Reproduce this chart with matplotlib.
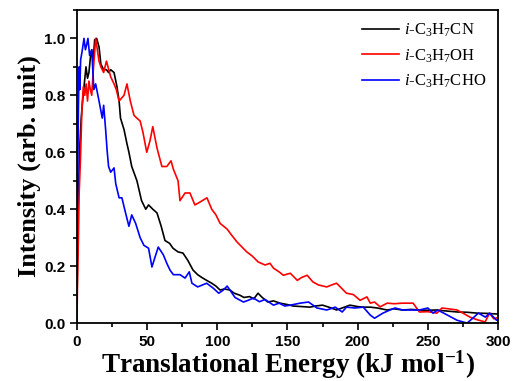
"""Translational energy distributions for i-C3H7X photofragments."""

import matplotlib

matplotlib.use("Agg")

import matplotlib.pyplot as plt
from matplotlib.ticker import MultipleLocator

# i-C3H7CN (black)
E_CN = [0, 0.5, 1, 2, 3, 4, 5, 6.4, 7.5, 8.5, 9.5, 10.5, 11.5, 12.6, 14, 15.7, 17,
        19, 21, 22.5, 24, 26.4, 28.5, 30, 31, 33.5, 35.6, 37, 39, 42.7, 46, 49, 51,
        54, 57, 60, 62.7, 66, 68.4, 72, 75.5, 79, 82.7, 86, 89, 92.4, 96, 99, 102,
        105, 109, 112, 116, 119, 123, 126, 129, 132, 136, 140, 144.7, 150, 154, 160,
        166, 170, 175, 180, 185, 190, 194.5, 200, 204, 209, 214, 221, 226, 232, 238,
        244, 250, 256, 262, 271, 278, 285, 292, 299, 300]
I_CN = [0.05, 0.3, 0.45, 0.62, 0.72, 0.78, 0.83, 0.9, 0.86, 0.88, 0.93, 0.96, 0.92,
        0.995, 1.0, 0.97, 0.91, 0.89, 0.89, 0.88, 0.89, 0.88, 0.83, 0.78, 0.72, 0.68,
        0.63, 0.60, 0.55, 0.50, 0.43, 0.40, 0.415, 0.40, 0.387, 0.34, 0.29, 0.28,
        0.263, 0.25, 0.246, 0.22, 0.186, 0.17, 0.16, 0.15, 0.14, 0.13, 0.116, 0.12,
        0.116, 0.105, 0.098, 0.09, 0.093, 0.085, 0.105, 0.09, 0.074, 0.078, 0.07,
        0.065, 0.06, 0.058, 0.056, 0.06, 0.063, 0.055, 0.046, 0.055, 0.063, 0.058,
        0.056, 0.056, 0.053, 0.046, 0.05, 0.046, 0.048, 0.046, 0.045, 0.046, 0.043,
        0.039, 0.038, 0.035, 0.034, 0.032, 0.032]

# i-C3H7OH (red)
E_OH = [0, 0.3, 1, 1.5, 2.5, 3.5, 4.5, 5.5, 6.5, 7.5, 8.5, 9.5, 10.5, 11.5, 13.3,
        15.7, 17, 19, 21, 24, 26.4, 28, 30, 33.5, 35.6, 38, 40.6, 42.6, 45, 47, 49.7,
        52, 54, 57, 60.5, 64, 67, 68.7, 72, 73.4, 77, 80.5, 84, 87.6, 92.6, 96, 99,
        102, 107, 110, 114, 117, 121, 125, 129, 134, 137.5, 140, 144, 147, 152, 157,
        160, 164, 168, 172, 178, 182, 185, 189, 192, 197, 201.7, 206.6, 209, 212, 216,
        221, 226, 232, 236, 239.5, 244, 250, 256.5, 260, 265, 270.8, 275, 280, 285,
        290.8, 294, 297, 300]
I_OH = [0.0, 0.13, 0.3, 0.45, 0.58, 0.75, 0.83, 0.80, 0.84, 0.78, 0.85, 0.82, 0.80,
        0.88, 1.0, 0.92, 0.90, 0.88, 0.92, 0.865, 0.84, 0.82, 0.78, 0.80, 0.84, 0.78,
        0.73, 0.72, 0.71, 0.67, 0.60, 0.64, 0.69, 0.615, 0.55, 0.55, 0.57, 0.54, 0.50,
        0.43, 0.457, 0.457, 0.415, 0.425, 0.44, 0.40, 0.38, 0.35, 0.33, 0.31, 0.285,
        0.27, 0.25, 0.235, 0.215, 0.204, 0.21, 0.193, 0.18, 0.168, 0.175, 0.15, 0.16,
        0.168, 0.145, 0.134, 0.127, 0.135, 0.14, 0.12, 0.105, 0.1, 0.08, 0.092, 0.07,
        0.074, 0.057, 0.07, 0.068, 0.07, 0.07, 0.07, 0.039, 0.04, 0.035, 0.053, 0.05,
        0.046, 0.035, 0.021, 0.012, 0.004, 0.035, 0.015, 0.02]

# i-C3H7CHO (blue)
E_CHO = [0, 0.5, 1, 1.5, 2, 2.6, 3.5, 5, 6, 7, 7.8, 9, 10.5, 12, 13.3, 15.7, 18, 19,
         20.4, 21.4, 22.5, 24, 26.4, 27.6, 30, 32, 34.7, 37, 39, 41.8, 45, 47.7, 51,
         53.4, 55.5, 57.9, 61.5, 64, 66.3, 68.7, 73.4, 77, 80, 81.9, 86, 92.4, 97, 101,
         104, 107, 112.6, 118.6, 122, 125.7, 130, 134, 140, 144, 148, 152, 159, 165,
         171, 178, 184, 189, 192, 198, 204, 209, 212, 218, 223, 226.6, 232, 239.5, 244,
         250, 253.7, 257, 264, 270.8, 278, 282, 286, 291, 294, 299, 300]
I_CHO = [0.35, 0.5, 0.75, 0.9, 0.82, 0.925, 0.95, 1.0, 0.96, 0.98, 1.0, 0.94, 0.96,
         0.82, 0.84, 0.78, 0.72, 0.765, 0.68, 0.61, 0.55, 0.53, 0.545, 0.49, 0.44, 0.44,
         0.385, 0.34, 0.38, 0.35, 0.30, 0.273, 0.263, 0.197, 0.23, 0.267, 0.24, 0.21,
         0.186, 0.17, 0.17, 0.158, 0.18, 0.14, 0.127, 0.14, 0.123, 0.105, 0.115, 0.13,
         0.09, 0.074, 0.08, 0.088, 0.075, 0.083, 0.063, 0.07, 0.06, 0.063, 0.07, 0.074,
         0.053, 0.046, 0.056, 0.039, 0.056, 0.053, 0.056, 0.028, 0.017, 0.035, 0.046,
         0.053, 0.046, 0.046, 0.046, 0.053, 0.035, 0.046, 0.028, 0.01, 0.0, 0.017,
         0.035, 0.021, 0.035, 0.01, 0.012]

LABELS = [r"$\mathit{i}$-C$_3$H$_7$CN", r"$\mathit{i}$-C$_3$H$_7$OH",
          r"$\mathit{i}$-C$_3$H$_7$CHO"]
COLORS = ["black", "#ff0000", "#0000ff"]

plt.rcParams["mathtext.fontset"] = "custom"
plt.rcParams["mathtext.rm"] = "Liberation Serif"
plt.rcParams["mathtext.it"] = "Liberation Serif:italic"
plt.rcParams["mathtext.bf"] = "Liberation Serif:bold"

fig = plt.figure(figsize=(5.15, 3.81), dpi=100)
ax = fig.add_axes([0.1495, 0.152, 0.8175, 0.822])

for (e, i), label, color in zip([(E_CN, I_CN), (E_OH, I_OH), (E_CHO, I_CHO)],
                                LABELS, COLORS):
    ax.plot(e, i, color=color, linewidth=1.2, label=label)

ax.set_xlim(0, 300)
ax.set_ylim(0, 1.1)
ax.xaxis.set_major_locator(MultipleLocator(50))
ax.xaxis.set_minor_locator(MultipleLocator(25))
ax.yaxis.set_major_locator(MultipleLocator(0.2))
ax.yaxis.set_minor_locator(MultipleLocator(0.1))
ax.tick_params(which="both", direction="out", width=1.2, top=False, right=False)
ax.tick_params(which="major", length=5)
ax.tick_params(which="minor", length=3)
for spine in ax.spines.values():
    spine.set_linewidth(1.3)

for lab in ax.get_xticklabels() + ax.get_yticklabels():
    lab.set_fontfamily("Liberation Sans")
    lab.set_fontweight("bold")
    lab.set_fontsize(11)

ax.set_xlabel(r"Translational Energy (kJ mol$^{\mathbf{-1}}$)",
              family="Liberation Serif", weight="bold", fontsize=19.5, labelpad=0)
ax.set_ylabel("Intensity (arb. unit)", family="Liberation Serif", weight="bold",
              fontsize=19, labelpad=2)

ax.legend(loc="upper right", frameon=False, handlelength=2.2,
          handletextpad=0.3, labelspacing=0.5, borderaxespad=0.3,
          prop={"family": "Liberation Serif", "size": 12})

fig.savefig("out.png", dpi=100)
